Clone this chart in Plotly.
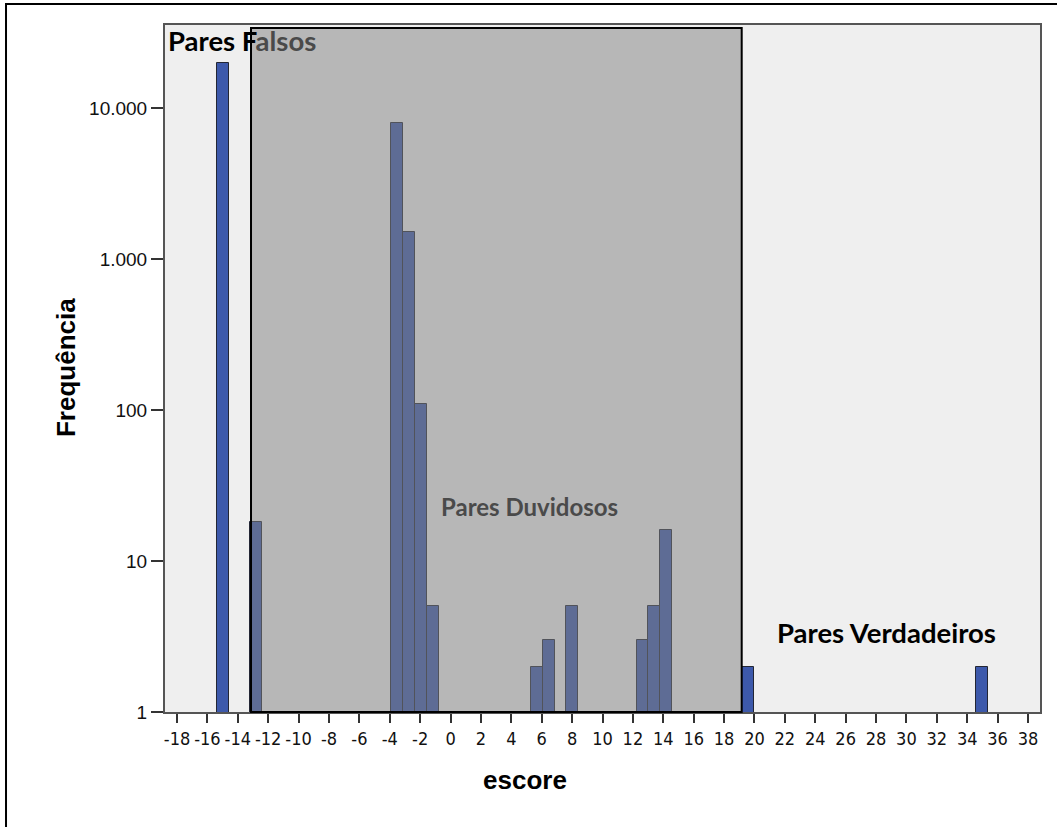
import plotly.graph_objects as go

# Data
bin_centers = [-14.97, -12.77, -3.53, -2.74, -1.95, -1.16, 5.68, 6.50, 8.00,
               12.66, 13.40, 14.17, 19.60, 34.96]
frequencies = [20000, 18, 8000, 1500, 110, 5, 2, 3, 5, 3, 5, 16, 2, 2]

x_tick_values = list(range(-18, 39, 2))
x_tick_labels = [str(v) for v in x_tick_values]   # ASCII hyphen like the original
y_tick_values = [1, 10, 100, 1000, 10000]
y_tick_labels = ["1", "10", "100", "1.000", "10.000"]

doubtful_zone = [-13.13, 19.16]   # "Pares Duvidosos" shaded region (score range)

fig = go.Figure()
fig.add_trace(go.Bar(
    x=bin_centers, y=frequencies, width=0.79,
    marker=dict(color="#3d59ab", line=dict(color="#232634", width=1)),
    showlegend=False, hoverinfo="x+y",
))

fig.update_layout(
    width=1057, height=827,
    margin=dict(l=165, r=17, t=25, b=115, autoexpand=False),
    paper_bgcolor="white", plot_bgcolor="#efefef",
    font=dict(family="Liberation Sans, Arial, sans-serif", color="black"),
    bargap=0,
    xaxis=dict(
        range=[-18.79, 38.79], tickmode="array", tickvals=x_tick_values,
        ticktext=x_tick_labels, tickangle=0,
        ticks="outside", ticklen=9, tickwidth=2, tickcolor="#333",
        showgrid=False, zeroline=False,
        showline=True, linecolor="#555", linewidth=2, mirror=True,
        tickfont=dict(family="Liberation Sans Narrow, DejaVu Sans Condensed, Liberation Sans, sans-serif",
                      size=18, color="#111"),
    ),
    yaxis=dict(
        type="log", range=[0, 4.55], tickmode="array",
        tickvals=y_tick_values, ticktext=y_tick_labels,
        ticks="outside", ticklen=12, tickwidth=2, tickcolor="#333",
        showgrid=False, zeroline=False,
        showline=True, linecolor="#555", linewidth=2, mirror=True,
        tickfont=dict(size=19, color="#111"),
    ),
    shapes=[
        dict(type="rect", xref="x", yref="paper",
             x0=doubtful_zone[0], x1=doubtful_zone[1], y0=0, y1=0.9956,
             fillcolor="rgba(127,127,127,0.5)",
             line=dict(color="black", width=2), layer="above"),
        dict(type="rect", xref="paper", yref="paper",
             x0=-0.1817, x1=1.06, y0=-0.2, y1=1.0306,
             fillcolor="rgba(0,0,0,0)", line=dict(color="black", width=2),
             layer="above"),
    ],
    annotations=[
        dict(text="<b>Frequência</b>", xref="paper", yref="paper", x=-0.1131, y=0.5007,
             textangle=-90, showarrow=False, xanchor="center", yanchor="middle",
             font=dict(size=26, family="Liberation Sans, Arial, sans-serif")),
        dict(text="<b>escore</b>", xref="paper", yref="paper", x=0.4114, y=-0.099,
             showarrow=False, xanchor="center", yanchor="middle",
             font=dict(size=26, family="Liberation Sans, Arial, sans-serif")),
        dict(text="<b>Pares F<span style='color:#4a4a4a'>alsos</span></b>",
             xref="paper", yref="paper", x=0.0013, y=0.977,
             showarrow=False, xanchor="left", yanchor="middle",
             font=dict(size=27.5, family="Lato, Carlito, sans-serif", color="black")),
        dict(text="<b>Pares Duvidosos</b>", xref="paper", yref="paper",
             x=0.4171, y=0.2984, showarrow=False, xanchor="center", yanchor="middle",
             font=dict(size=24, family="Lato, Carlito, sans-serif", color="#4a4a4a")),
        dict(text="<b>Pares Verdadeiros</b>", xref="paper", yref="paper",
             x=0.825, y=0.1164, showarrow=False, xanchor="center", yanchor="middle",
             font=dict(size=27.5, family="Lato, Carlito, sans-serif", color="black")),
    ],
)

fig.write_html("out.html")
